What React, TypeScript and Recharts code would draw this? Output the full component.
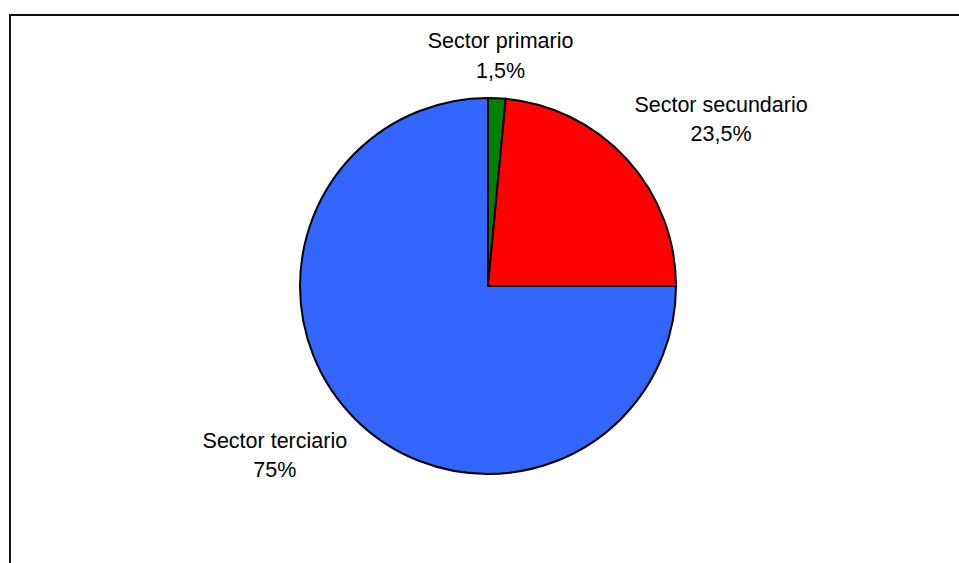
import React from "react";
import { PieChart, Pie, Cell } from "recharts";

const sectors = ["Sector primario", "Sector secundario", "Sector terciario"];
const shares = [1.5, 23.5, 75];
const COLORS = ["#008000", "#FF0000", "#3366FF"];

const FONT = "'Liberation Sans', Arial, sans-serif";
const FONT_SIZE = 21.5;

const data = sectors.map((name, i) => ({ name, value: shares[i] }));

let ctx: CanvasRenderingContext2D | null = null;
function textWidth(s: string) {
  if (!ctx) ctx = document.createElement("canvas").getContext("2d");
  if (!ctx) return s.length * FONT_SIZE * 0.5;
  ctx.font = `${FONT_SIZE}px ${FONT}`;
  return ctx.measureText(s).width;
}

// eslint-disable-next-line @typescript-eslint/no-explicit-any
function SliceLabel(props: any) {
  const { cx, cy, midAngle, outerRadius, name, value } = props;
  const rad = (midAngle * Math.PI) / 180;
  const cos = Math.cos(rad);
  const sin = Math.sin(rad);
  const ax = cx + (outerRadius + 14) * cos;
  const ay = cy - (outerRadius + 14) * sin;
  const pct = `${String(value).replace(".", ",")}%`;
  const w = Math.max(textWidth(name), textWidth(pct));
  let x = ax + 3;
  if (cos > 0.15) x = ax - 3 + w / 2;
  else if (cos < -0.15) x = ax + 2 - w / 2;
  const y1 = sin > 0 ? ay - 36 - 3 * cos : ay + 19;
  const y2 = y1 + 29.5;
  return (
    <g>
      <text x={x} y={y1} textAnchor="middle" fontSize={FONT_SIZE} fontFamily={FONT} fill="#000">
        {name}
      </text>
      <text x={x} y={y2} textAnchor="middle" fontSize={FONT_SIZE} fontFamily={FONT} fill="#000">
        {pct}
      </text>
    </g>
  );
}

export default function App() {
  return (
    <div
      style={{
        position: "absolute",
        left: 0,
        top: 0,
        width: 959,
        height: 563,
        overflow: "hidden",
        background: "#fff",
      }}
    >
      {/* chart area frame, only top and left edges fall inside the window */}
      <div
        style={{
          position: "absolute",
          left: 9,
          top: 14,
          width: 1000,
          height: 600,
          borderTop: "2px solid #111",
          borderLeft: "2px solid #111",
        }}
      />
      <div style={{ position: "absolute", left: 0, top: 0 }}>
        <PieChart width={959} height={563} margin={{ top: 0, right: 0, bottom: 0, left: 0 }}>
          <Pie
            data={data}
            dataKey="value"
            nameKey="name"
            cx={488}
            cy={286}
            outerRadius={188}
            startAngle={90}
            endAngle={-270}
            stroke="#000"
            strokeWidth={2}
            label={<SliceLabel />}
            labelLine={false}
            isAnimationActive={false}
          >
            {data.map((_, i) => (
              <Cell key={`cell-${i}`} fill={COLORS[i]} />
            ))}
          </Pie>
        </PieChart>
      </div>
    </div>
  );
}
